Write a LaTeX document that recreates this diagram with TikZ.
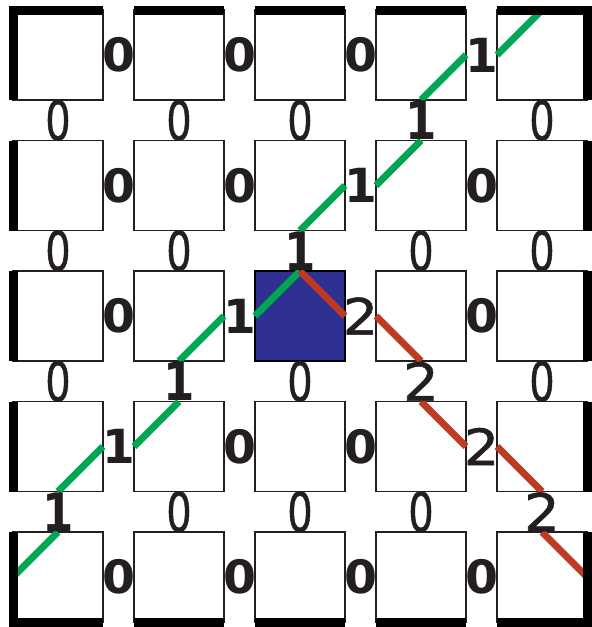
\documentclass[tikz,border=0pt]{standalone}
\usepackage{fontspec}
\newfontfamily\dja{DejaVu Sans}[FakeBold=1]
\newfontfamily\djb{DejaVu Sans Bold}
\definecolor{ink}{HTML}{231F20}
\definecolor{gline}{HTML}{00A651}
\definecolor{rline}{HTML}{BE3A22}
\definecolor{bfill}{HTML}{2E3192}
\begin{document}
\begin{tikzpicture}[x=1pt,y=-1pt,
  cell/.style={draw=ink, line width=1.2pt, fill=white, minimum size=90pt, inner sep=0pt, outer sep=0pt},
  hot/.style={cell, fill=bfill, draw=black},
  gseg/.style={draw=gline, line width=7pt},
  rseg/.style={draw=rline, line width=7pt},
  wall/.style={draw=black, line width=9pt, line join=miter},
  lab/.style={inner sep=0pt, outer sep=0pt, text=ink},
  h0/.style={lab, font={\def\myx{1.03}\djb\fontsize{46}{46}\selectfont}},
  h1/.style={lab, font={\def\myx{1.0}\djb\fontsize{47}{47}\selectfont}},
  h2/.style={lab, font={\def\myx{1.12}\dja\fontsize{50}{50}\selectfont}},
  v0/.style={lab, font={\def\myx{0.74}\dja\fontsize{54}{54}\selectfont}},
  v1/.style={lab, font={\def\myx{0.85}\djb\fontsize{53}{53}\selectfont}},
  v2/.style={lab, font={\def\myx{1.08}\dja\fontsize{52}{52}\selectfont}}
]
\useasboundingbox (0,0) rectangle (592,627);
% boxes
\foreach \r in {0,...,4}{
  \foreach \c in {0,...,4}{
    \ifnum\r\c=22 \def\st{hot}\else\def\st{cell}\fi
    \node[\st] (b\r\c) at ({58+121*\c},{55+130.5*\r}) {};
  }
}
% green path
\draw[gseg] (b22.north) -- (b22.west);
\draw[gseg] (b12.south) -- (b12.east);
\draw[gseg] (b13.west) -- (b13.north);
\draw[gseg] (b03.south) -- (b03.east);
\draw[gseg] (b04.west) -- (b04.north);
\draw[gseg] (b21.east) -- (b21.south);
\draw[gseg] (b31.north) -- (b31.west);
\draw[gseg] (b30.east) -- (b30.south);
\draw[gseg] (b40.north) -- (b40.west);
% red path
\draw[rseg] (b22.north) -- (b22.east);
\draw[rseg] (b23.west) -- (b23.south);
\draw[rseg] (b33.north) -- (b33.east);
\draw[rseg] (b34.west) -- (b34.south);
\draw[rseg] (b44.north) -- (b44.east);
% walls
\draw[wall] (b00.south west) -- (b00.north west) -- (b00.north east);
\foreach \c in {1,2,3}{\draw[wall] (b0\c.north west) -- (b0\c.north east);}
\draw[wall] (b04.north west) -- (b04.north east) -- (b04.south east);
\foreach \r in {1,2,3}{
  \draw[wall] (b\r0.north west) -- (b\r0.south west);
  \draw[wall] (b\r4.north east) -- (b\r4.south east);
}
\draw[wall] (b40.north west) -- (b40.south west) -- (b40.south east);
\foreach \c in {1,2,3}{\draw[wall] (b4\c.south west) -- (b4\c.south east);}
\draw[wall] (b44.south west) -- (b44.south east) -- (b44.north east);
% horizontal labels
\foreach \r/\c/\v in {0/0/0,0/1/0,0/2/0,0/3/1,
                      1/0/0,1/1/0,1/2/1,1/3/0,
                      2/0/0,2/1/1,2/2/2,2/3/0,
                      3/0/1,3/1/0,3/2/0,3/3/2,
                      4/0/0,4/1/0,4/2/0,4/3/0}{
  \node[h\v] (h\r\c) at ({118.5+121*\c},{55+130.5*\r}) {\scalebox{\myx}[1]{\v}};
}
% vertical labels
\foreach \r/\c/\v in {0/0/0,0/1/0,0/2/0,0/3/1,0/4/0,
                      1/0/0,1/1/0,1/2/1,1/3/0,1/4/0,
                      2/0/0,2/1/1,2/2/0,2/3/2,2/4/0,
                      3/0/1,3/1/0,3/2/0,3/3/0,3/4/2}{
  \node[v\v] (v\r\c) at ({58+121*\c},{120.25+130.5*\r}) {\scalebox{\myx}[1]{\v}};
}
\end{tikzpicture}
\end{document}
